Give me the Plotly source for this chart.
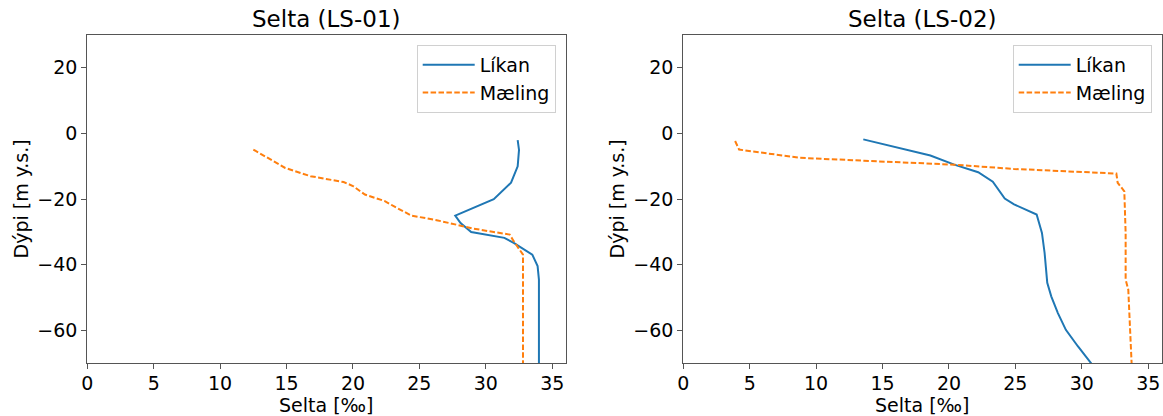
import plotly.graph_objects as go

# Salinity profiles (‰) against depth (m y.s.) at two stations
ls01_model_salt = [32.4, 32.5, 32.4, 31.9, 30.6, 27.7, 28.1, 28.9, 31.4, 32.1, 33.5, 33.9, 34.0, 34.0, 34.0, 34.0, 34.0, 34.0]
ls01_model_depth = [-2, -5, -10, -15, -20, -25, -27.3, -30, -31.8, -33.3, -36.9, -40.4, -44.5, -50, -55, -60, -65, -70]
ls01_meas_salt = [12.5, 14.9, 16.8, 19.3, 20.0, 20.9, 22.4, 23.0, 24.4, 26.3, 29.1, 31.8, 32.1, 32.8, 32.8, 32.8]
ls01_meas_depth = [-4.9, -10.5, -13.0, -14.8, -16.0, -18.6, -20.6, -22.0, -25.0, -26.4, -29.0, -30.8, -32.8, -36.9, -50, -70]

ls02_model_salt = [13.55, 18.6, 20.4, 22.2, 23.3, 24.2, 24.9, 26.6, 27.0, 27.2, 27.4, 27.7, 28.2, 28.8, 29.7, 30.8]
ls02_model_depth = [-1.8, -6.7, -9.5, -11.8, -14.7, -19.8, -21.6, -24.7, -30.3, -36.4, -45.5, -49.6, -54.7, -59.8, -64.8, -70.5]
ls02_meas_salt = [3.9, 4.2, 6.0, 8.8, 13.6, 20.4, 24.9, 32.6, 32.7, 33.2, 33.3, 33.3, 33.5, 33.6, 33.75]
ls02_meas_depth = [-2.3, -4.9, -5.9, -7.4, -8.3, -9.5, -10.8, -12.2, -15.0, -17.6, -30.3, -44.5, -47.6, -55.7, -70]

titles = ["Selta (LS-01)", "Selta (LS-02)"]
x_label = "Selta [‰]"
y_label = "Dýpi [m y.s.]"
series_names = ["Líkan", "Mæling"]

W, H = 1163, 416
BLUE = "#1f77b4"
ORANGE = "#ff7f0e"
FONT = "DejaVu Sans"

# panel extents in pixels: (left, right), shared top/bottom
panels = [(87.3, 565.5), (683.3, 1161.5)]
top_px, bot_px = 35.0, 363.3

fig = go.Figure()

profiles = [
    (ls01_model_salt, ls01_model_depth, ls01_meas_salt, ls01_meas_depth),
    (ls02_model_salt, ls02_model_depth, ls02_meas_salt, ls02_meas_depth),
]

for i, (ms, md, os_, od) in enumerate(profiles):
    xa = "x" if i == 0 else "x2"
    ya = "y" if i == 0 else "y2"
    lg = "legend" if i == 0 else "legend2"
    fig.add_trace(go.Scatter(x=ms, y=md, mode="lines", name=series_names[0],
                             line=dict(color=BLUE, width=2), xaxis=xa, yaxis=ya,
                             legend=lg))
    fig.add_trace(go.Scatter(x=os_, y=od, mode="lines", name=series_names[1],
                             line=dict(color=ORANGE, width=2, dash="5.5px,2.4px"),
                             xaxis=xa, yaxis=ya, legend=lg))

axis_common = dict(
    showline=True, mirror=True, linecolor="#555", linewidth=1.2,
    ticks="outside", ticklen=5, tickwidth=1.2, tickcolor="#555",
    showgrid=False, zeroline=False, automargin=False,
    tickfont=dict(family=FONT, size=19, color="black"),
)

layout = dict(
    width=W, height=H,
    margin=dict(l=0, r=0, t=0, b=0),
    paper_bgcolor="white", plot_bgcolor="white",
    font=dict(family=FONT, size=19, color="black"),
    annotations=[],
)

for i, (l, r) in enumerate(panels):
    sfx = "" if i == 0 else "2"
    dom_x = [l / W, r / W]
    dom_y = [1 - bot_px / H, 1 - top_px / H]
    layout["xaxis" + sfx] = dict(axis_common, domain=dom_x, range=[0, 36],
                                 tickvals=[0, 5, 10, 15, 20, 25, 30, 35],
                                 anchor="y" + sfx, ticklabelstandoff=-2)
    layout["yaxis" + sfx] = dict(axis_common, domain=dom_y, range=[-70, 30],
                                 tickvals=[-60, -40, -20, 0, 20],
                                 anchor="x" + sfx)
    cx = (l + r) / 2 / W
    layout["annotations"] += [
        dict(text=titles[i], x=cx, y=1 - 19 / H, xref="paper", yref="paper",
             xanchor="center", yanchor="middle", showarrow=False,
             font=dict(family=FONT, size=23, color="black")),
        dict(text=x_label, x=cx, y=1 - 405 / H, xref="paper", yref="paper",
             xanchor="center", yanchor="middle", showarrow=False,
             font=dict(family=FONT, size=19, color="black")),
        dict(text=y_label, x=(l - 66) / W, y=1 - (top_px + bot_px) / 2 / H,
             xref="paper", yref="paper", textangle=-90,
             xanchor="center", yanchor="middle", showarrow=False,
             font=dict(family=FONT, size=19, color="black")),
    ]
    layout["legend" + sfx] = dict(
        x=(r - 9.8) / W, y=1 - 45 / H, xanchor="right", yanchor="top",
        xref="paper", yref="paper",
        bgcolor="rgba(255,255,255,0.8)", bordercolor="#d0d0d0", borderwidth=1,
        font=dict(family=FONT, size=19, color="black"),
        tracegroupgap=0, itemwidth=52,
    )

fig.update_layout(**layout)
fig.write_html("out.html")
